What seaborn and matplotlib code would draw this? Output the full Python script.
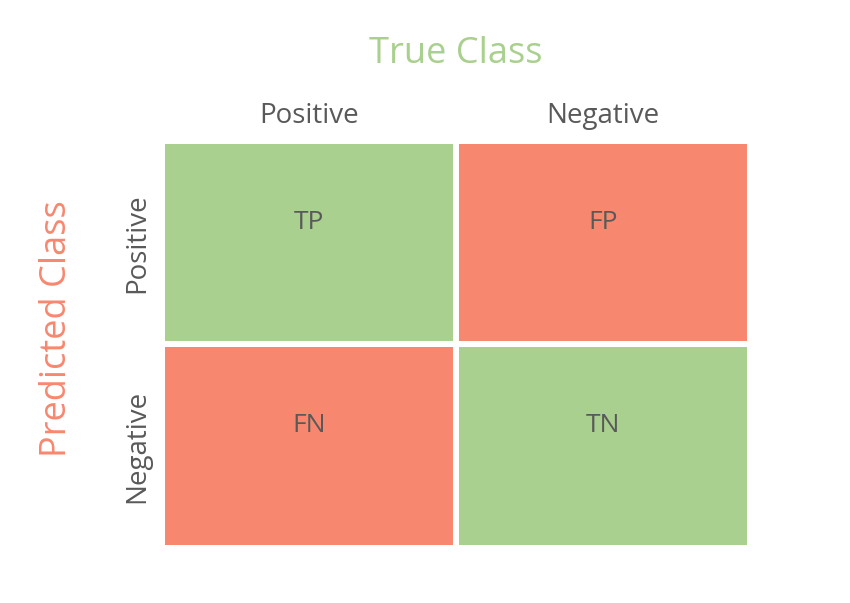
import matplotlib
matplotlib.use("Agg")
import matplotlib.pyplot as plt
import seaborn as sns
import numpy as np
from matplotlib.colors import ListedColormap

sns.set_theme(style="white")
plt.rcParams['font.family'] = ['Open Sans', 'DejaVu Sans']

labels = ["Positive", "Negative"]
cell_text = [["TP", "FP"], ["FN", "TN"]]
correct = np.array([[1, 0], [0, 1]])

green = "#A9D08E"
red = "#F8876F"
gray = "#595959"

fig = plt.figure(figsize=(8.5, 6.03), dpi=100)
ax = fig.add_axes([0.1906, 0.0912, 0.692, 0.675])
sns.heatmap(correct, cmap=ListedColormap([red, green]), cbar=False,
            linewidths=3, linecolor="white", ax=ax, square=False)

for i in range(2):
    for j in range(2):
        ax.text(j + 0.5, i + 0.4, cell_text[i][j], ha="center", va="center",
                fontsize=19, color=gray)

ax.set_xticks([0.5, 1.5])
ax.set_xticklabels(labels, fontsize=20, color=gray)
ax.xaxis.tick_top()
ax.set_yticks([0.5, 1.5])
ax.set_yticklabels(labels, fontsize=20, color=gray, rotation=90, va="center")
ax.tick_params(length=0, pad=8)

fig.text(0.536, 0.91, "True Class", ha="center", va="center", fontsize=26, color=green)
fig.text(0.067, 0.455, "Predicted Class", ha="center", va="center", fontsize=26,
         color=red, rotation=90)

fig.savefig("out.png", dpi=100, facecolor="white")
